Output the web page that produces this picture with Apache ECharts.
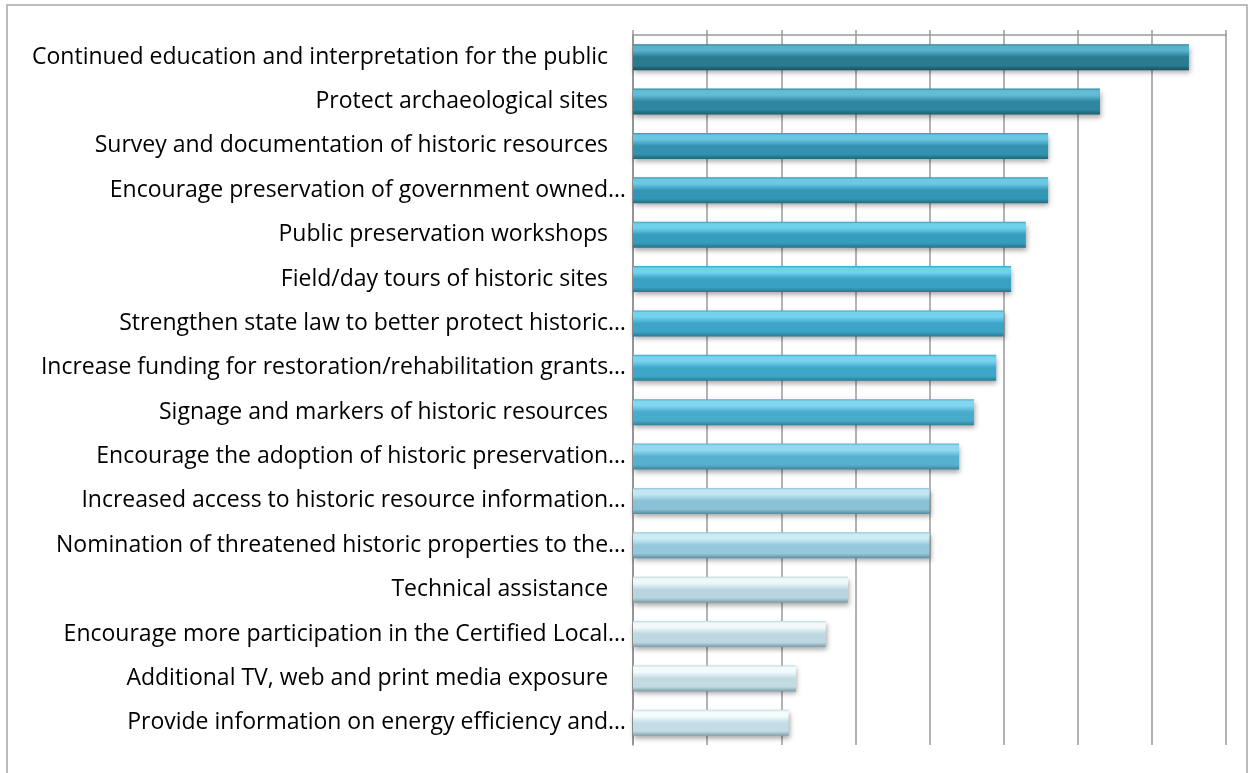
<!DOCTYPE html>
<html>
<head>
<meta charset="utf-8" />
<title>Preservation priorities</title>
<script src="https://cdn.jsdelivr.net/npm/echarts@6/dist/echarts.min.js"></script>
<style>
  html, body { margin: 0; padding: 0; background: #fff; }
  #chart { width: 1253px; height: 773px; }
</style>
</head>
<body>
<div id="chart"></div>
<script>
// categories, top to bottom
var categories = [
  'Continued education and interpretation for the public',
  'Protect archaeological sites',
  'Survey and documentation of historic resources',
  'Encourage preservation of government owned…',
  'Public preservation workshops',
  'Field/day tours of historic sites',
  'Strengthen state law to better protect historic…',
  'Increase funding for restoration/rehabilitation grants…',
  'Signage and markers of historic resources',
  'Encourage the adoption of historic preservation…',
  'Increased access to historic resource information…',
  'Nomination of threatened historic properties to the…',
  'Technical assistance',
  'Encourage more participation in the Certified Local…',
  'Additional TV, web and print media exposure',
  'Provide information on energy efficiency and…'
];
// values (one gridline = 10)
var values = [75, 63, 56, 56, 53, 51, 50, 49, 46, 44, 40, 40, 29, 26, 22, 21];

// colour of each bar: [highlight, body, dark edge]
var shades = [
  ['#58b2cc', '#2a7a90', '#1a5160'],
  ['#62bcd6', '#2e86a0', '#1d5b6b'],
  ['#68c6e1', '#3292b0', '#216678'],
  ['#6bc9e4', '#3496b5', '#236a7e'],
  ['#70cfea', '#379dbf', '#26718b'],
  ['#72d1ec', '#39a1c4', '#28758f'],
  ['#74d2ed', '#3ba4c7', '#297893'],
  ['#77d3ee', '#3ea7c9', '#2b7a96'],
  ['#82d6ef', '#48abcc', '#337f9a'],
  ['#92d9ef', '#58b0cf', '#3d839e'],
  ['#c2e7f3', '#89c2d6', '#5a8a9b'],
  ['#cbebf5', '#95c8da', '#5e8e9e'],
  ['#eef8fb', '#b8d5df', '#7a9aa5'],
  ['#f1f9fb', '#bdd8e1', '#7c9ca7'],
  ['#f3fafc', '#c1dbe3', '#7e9ea8'],
  ['#f4fbfc', '#c4dde5', '#80a0aa']
];

var barData = values.map(function (v, i) {
  var s = shades[i];
  return {
    value: v,
    itemStyle: {
      color: new echarts.graphic.LinearGradient(0, 0, 0, 1, [
        { offset: 0, color: s[1] },
        { offset: 0.08, color: s[0] },
        { offset: 0.25, color: s[0] },
        { offset: 0.5, color: s[1] },
        { offset: 0.82, color: s[1] },
        { offset: 1, color: s[2] }
      ])
    }
  };
});

var myChart = echarts.init(document.getElementById('chart'));

var option = {
  backgroundColor: '#ffffff',
  animation: false,
  graphic: [{
    type: 'rect',
    shape: { x: 7, y: 5, width: 1240, height: 800 },
    style: { fill: 'none', stroke: '#a6a6a6', lineWidth: 1.5 },
    silent: true
  }],
  grid: { left: 633, right: 27, top: 35, bottom: 28 },
  xAxis: {
    type: 'value',
    position: 'top',
    min: 0,
    max: 80,
    interval: 10,
    axisLabel: { show: false },
    axisLine: { show: true, lineStyle: { color: '#9a9a9a', width: 1.5 } },
    axisTick: { show: true, length: 5, lineStyle: { color: '#9a9a9a', width: 1.5 } },
    splitLine: { show: true, lineStyle: { color: '#9a9a9a', width: 1.5 } }
  },
  yAxis: {
    type: 'category',
    data: categories,
    inverse: true,
    axisLine: { show: true, lineStyle: { color: '#8c8c8c', width: 1.5 } },
    axisTick: { show: false },
    axisLabel: {
      margin: 7,
      color: '#000000',
      fontFamily: 'Open Sans',
      fontSize: 23,
      formatter: function (t) {
        // labels that were not cut end a little further left
        return t.slice(-1) === '…' ? t : t + '   ';
      }
    }
  },
  series: [{
    type: 'bar',
    data: barData,
    barWidth: 26,
    itemStyle: {
      shadowColor: 'rgba(0,0,0,0.35)',
      shadowBlur: 5,
      shadowOffsetY: 3,
      shadowOffsetX: 1
    }
  }]
};

myChart.setOption(option);
</script>
</body>
</html>
